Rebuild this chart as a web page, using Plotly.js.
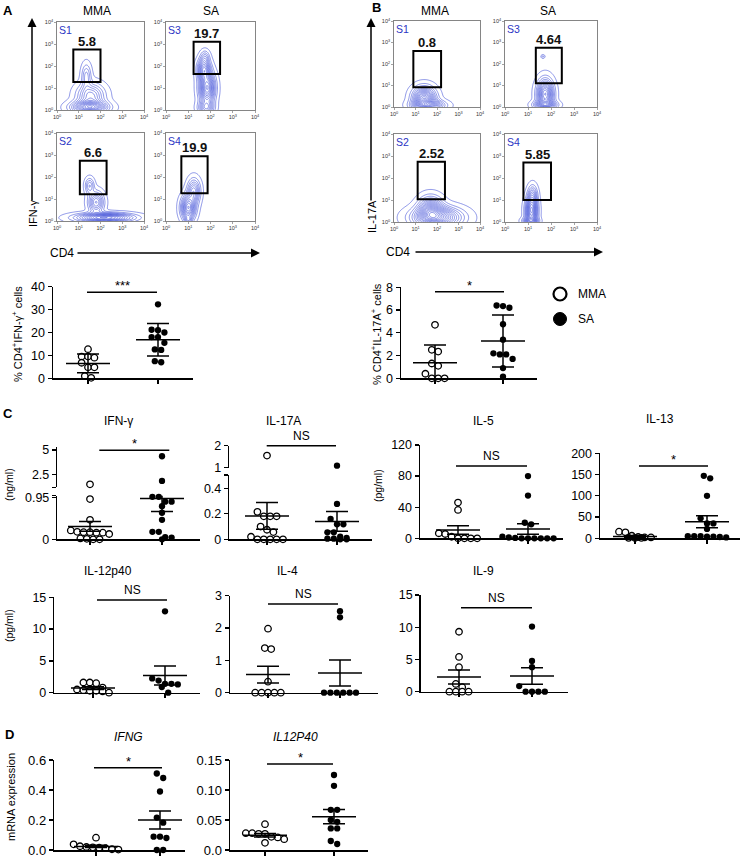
<!DOCTYPE html>
<html><head><meta charset="utf-8">
<script src="https://cdn.plot.ly/plotly-3.0.1.min.js"></script>
<style>html,body{margin:0;padding:0;background:#fff}#chart{width:743px;height:863px}</style>
</head><body><div id="chart"></div>
<script>
// ================= DATA =================
// Flow cytometry panels: A (IFN-γ vs CD4) S1,S3,S2,S4 then B (IL-17A vs CD4) S1,S3,S2,S4
const flowSamples = ['S1','S3','S2','S4','S1','S3','S2','S4'];
const flowGatePct = ['5.8','19.7','6.6','19.9','0.8','4.64','2.52','5.85'];
const flowGateX0 = [0.75,1.24,1.05,0.69,0.90,1.34,1.10,0.80];   // log10 CD4
const flowGateX1 = [2.00,2.43,2.28,1.87,2.19,2.47,2.37,2.00];
const flowGateY0 = [1.27,1.64,1.22,1.26,0.92,1.10,1.03,1.00];   // log10 cytokine
const flowGateY1 = [2.75,3.10,2.74,2.94,2.60,2.75,2.74,2.70];
// population clusters: [centre log10 CD4, centre log10 cytokine, spread x, spread y, relative density]
const flowClustersAS1 = [[1.5,0.12,0.5,0.18,1.0],[1.55,0.65,0.4,0.35,0.55],[1.35,1.55,0.14,0.35,0.3]];
const flowClustersAS3 = [[1.85,1.0,0.22,0.45,1.0],[1.7,1.85,0.18,0.3,0.75],[1.8,0.1,0.22,0.2,0.5],[1.75,2.4,0.13,0.2,0.25]];
const flowClustersAS2 = [[2.2,0.15,0.8,0.13,1.0],[1.8,0.85,0.22,0.3,0.6],[1.5,1.6,0.13,0.22,0.35]];
const flowClustersAS4 = [[1.0,0.6,0.2,0.35,0.9],[1.25,1.35,0.18,0.35,0.55],[1.0,0.05,0.1,0.1,0.3]];
const flowClustersBS1 = [[1.4,0.4,0.33,0.33,1.0],[1.6,0.08,0.45,0.15,0.8]];
const flowClustersBS3 = [[1.75,0.6,0.22,0.42,1.0],[1.75,0.1,0.3,0.12,0.7],[1.65,2.35,0.05,0.05,0.15]];
const flowClustersBS2 = [[2.0,0.2,0.7,0.3,1.0],[1.7,0.6,0.35,0.35,0.7]];
const flowClustersBS4 = [[1.15,0.5,0.16,0.4,1.0],[1.2,1.2,0.13,0.3,0.4],[1.1,0.05,0.2,0.1,0.6]];
const flowTickVals = [0,1,2,3,4];
const flowTickText = ['10<sup>0</sup>','10<sup>1</sup>','10<sup>2</sup>','10<sup>3</sup>','10<sup>4</sup>'];

const groups = ['MMA','SA'];
// A: % CD4+IFN-γ+ cells (mean ± SD)
const pctIfngMMA = [12.7,9.5,9.5,9.0,6.8,4.8,4.8,1.0,0.2];
const pctIfngSA  = [32.3,21.2,21.0,20.0,18.0,18.0,15.5,12.6,12.4,7.5,7.0];
const pctIfngMean = [6.5,16.8];
const pctIfngErr  = [4.1,7.1];
// B: % CD4+IL-17A+ cells (mean ± SD)
const pctIl17MMA = [4.7,2.5,2.35,1.3,1.1,0.4,0,0,0];
const pctIl17SA  = [6.4,6.35,6.2,4.75,3.4,2.2,2.1,2.1,1.7,0.9,0.15];
const pctIl17Mean = [1.37,3.28];
const pctIl17Err  = [1.55,2.28];
// C: cytokines (mean ± SEM)
const ifngMMA = [1.47,0.91,0.44,0.2,0.17,0.16,0.16,0.15,0.15,0.12,0.02,0.01,0.0,0.0];
const ifngSA  = [4.35,1.82,0.96,0.96,0.85,0.85,0.75,0.6,0.44,0.17,0.17,0.05,0.04,0.0];
const ifngMean = [0.29,0.92], ifngErr = [0.11,0.29];
const il17aMMA = [1.55,0.215,0.18,0.18,0.18,0.1,0.075,0.057,0.02,0,0,0,0,0];
const il17aSA  = [1.09,0.277,0.16,0.118,0.118,0.055,0.055,0.02,0.01,0.005,0.005,0,0];
const il17aMean = [0.183,0.14], il17aErr = [0.105,0.077];
const il5MMA = [46,36.5,6.5,5.5,2,0,0,0,0];
const il5SA  = [80,55,20,18,2,1,0.5,0,0,0,0,0,0];
const il5Mean = [10.7,12], il5Err = [5.6,6.8];
const il13MMA = [15.5,14,6,3,2,2,1,1,1];
const il13SA  = [147,141,100,47,35,35,22,5,5,5,4,4,3,2];
const il13Mean = [4.3,39], il13Err = [2.5,14];
const il12MMA = [1.6,1.6,1.5,0.8,0.5,0.4,0.3,0.3,0.2,0.0];
const il12SA  = [12.8,2.25,1.9,1.4,1.4,1.3,0.9,0.0];
const il12Mean = [0.72,2.7], il12Err = [0.22,1.5];
const il4MMA = [1.98,1.38,1.35,0.34,0,0,0,0,0];
const il4SA  = [2.52,2.33,0,0,0,0,0,0];
const il4Mean = [0.56,0.61], il4Err = [0.26,0.4];
const il9MMA = [9.3,5.4,3.8,1.2,0.7,0,0,0,0];
const il9SA  = [10.1,4.76,3.8,0.88,0,0,0,0];
const il9Mean = [2.27,2.44], il9Err = [1.08,1.29];
// D: mRNA expression (mean ± SEM)
const ifngMrnaMMA = [0.082,0.038,0.025,0.02,0.018,0.015,0.012,0.005,0.003];
const ifngMrnaSA  = [0.51,0.48,0.39,0.216,0.182,0.089,0.089,0.08,0.0,0.0];
const ifngMrnaMean = [0.024,0.2], ifngMrnaErr = [0.008,0.06];
const il12MrnaMMA = [0.043,0.028,0.028,0.027,0.027,0.022,0.021,0.018,0.012];
const il12MrnaSA  = [0.125,0.107,0.067,0.067,0.05,0.047,0.036,0.036,0.015,0.01];
const il12MrnaMean = [0.0245,0.0556], il12MrnaErr = [0.003,0.012];

// ================= LAYOUT HELPERS =================
const W = 743, H = 863;
const FONT = 'Liberation Sans, Arial, Helvetica, sans-serif';
const X = px => px / W;
const Y = py => 1 - py / H;
let xc = 0, yc = 0;
const layout = {
  width: W, height: H, margin: {l:0, r:0, t:0, b:0},
  paper_bgcolor: '#fff', plot_bgcolor: 'rgba(0,0,0,0)',
  showlegend: false, font: {family: FONT, color: '#000'},
  annotations: [], shapes: []
};
const traces = [];
const axKey = (p, n) => n === 1 ? p + 'axis' : p + 'axis' + n;
const axRef = (p, n) => n === 1 ? p : p + n;
function ann(o) {
  layout.annotations.push(Object.assign({showarrow:false, xref:'paper', yref:'paper', xanchor:'center', yanchor:'middle',
    font:{family:FONT, size:12, color:'#000'}}, o));
}

// ================= FLOW PANELS =================
const flowClusters = [flowClustersAS1, flowClustersAS3, flowClustersAS2, flowClustersAS4,
                      flowClustersBS1, flowClustersBS3, flowClustersBS2, flowClustersBS4];
const flowBoxes = [[57,144,22,110],[166,255,22,110],[57,144,133,221],[166,255,133,221],
                   [394,480,21,107],[505,597,21,107],[394,480,134,222],[505,597,134,222]];
const grid = [];
for (let k = 0; k <= 100; k++) grid.push(k * 0.04);
flowBoxes.forEach((bx, i) => {
  const [l, r, t, b] = bx;
  const xn = ++xc, yn = ++yc;
  const xr = axRef('x', xn), yr = axRef('y', yn);
  const common = {range:[0,4], showline:true, mirror:true, linecolor:'#666', linewidth:0.8,
    ticks:'outside', ticklen:2, tickwidth:0.6, tickcolor:'#666', tickvals:flowTickVals, ticktext:flowTickText,
    tickfont:{size:5.5, color:'#333', family:FONT}, showgrid:false, zeroline:false, fixedrange:true};
  layout[axKey('x', xn)] = Object.assign({domain:[X(l), X(r)], anchor:yr}, common);
  layout[axKey('y', yn)] = Object.assign({domain:[Y(b), Y(t)], anchor:xr}, common);
  const cl = flowClusters[i];
  const z = grid.map(gy => grid.map(gx => cl.reduce((s, c) =>
      s + c[4] * Math.exp(-0.5 * ((gx - c[0]) / c[2]) ** 2 - 0.5 * ((gy - c[1]) / c[3]) ** 2), 0)));
  traces.push({type:'contour', x:grid, y:grid, z:z, xaxis:xr, yaxis:yr, showscale:false, hoverinfo:'skip',
    autocontour:false, contours:{coloring:'lines', start:0.03, end:2.0, size:0.08},
    line:{width:0.6, smoothing:1}, colorscale:[[0,'#3f4fd6'],[1,'#3f4fd6']]});
  layout.shapes.push({type:'rect', xref:xr, yref:yr, x0:flowGateX0[i], x1:flowGateX1[i],
    y0:flowGateY0[i], y1:flowGateY1[i], line:{color:'#000', width:2}});
  ann({xref:xr, yref:yr, x:(flowGateX0[i] + flowGateX1[i]) / 2, y:flowGateY1[i], yanchor:'bottom',
    text:'<b>' + flowGatePct[i] + '</b>', font:{family:FONT, size:13, color:'#111'}, borderpad:0});
  ann({x:X(l + 1), y:Y(t + 1), xanchor:'left', yanchor:'top', text:flowSamples[i], borderpad:0,
    font:{family:FONT, size:10.5, color:'#2b35c4'}});
});
// column headers & panel letters
ann({x:X(97), y:Y(11), text:'MMA'}); ann({x:X(211), y:Y(11), text:'SA'});
ann({x:X(435), y:Y(11), text:'MMA'}); ann({x:X(548), y:Y(11), text:'SA'});
ann({x:X(8), y:Y(10), text:'<b>A</b>', font:{family:FONT, size:13}});
ann({x:X(376), y:Y(8), text:'<b>B</b>', font:{family:FONT, size:13}});
ann({x:X(8), y:Y(414), text:'<b>C</b>', font:{family:FONT, size:13}});
ann({x:X(9), y:Y(734), text:'<b>D</b>', font:{family:FONT, size:13}});
// big axis arrows (head position in paper coordinates, tail offset in pixels)
function arrow(hx, hy, dx, dy) {
  layout.annotations.push({xref:'paper', yref:'paper', x:X(hx), y:Y(hy), ax:dx, ay:dy,
    showarrow:true, arrowhead:2, arrowsize:1.2, arrowwidth:1.5, arrowcolor:'#000', text:'', standoff:0, startstandoff:0});
}
arrow(32, 18, 0, 184); arrow(260, 253, -184, 0);
arrow(371, 18, 0, 184); arrow(603, 252, -189, 0);
ann({x:X(33), y:Y(214), text:'IFN-γ', textangle:-90, font:{family:FONT, size:11}});
ann({x:X(62), y:Y(253), text:'CD4'});
ann({x:X(372), y:Y(216), text:'IL-17A', textangle:-90, font:{family:FONT, size:11}});
ann({x:X(398), y:Y(252), text:'CD4'});

// ================= DOT PLOTS =================
const dotPanels = [
  {data:[pctIfngMMA,pctIfngSA], mean:pctIfngMean, err:pctIfngErr, box:[53,193], c:[88,158], fs:12.5,
   segs:[{top:286.7, bot:378.3, r:[0,40], tv:[0,10,20,30,40]}], br:[87,157,292.3], sig:'***'},
  {data:[pctIl17MMA,pctIl17SA], mean:pctIl17Mean, err:pctIl17Err, box:[401,537], c:[435,503], fs:12.5,
   segs:[{top:287.3, bot:378.3, r:[0,8], tv:[0,2,4,6,8]}], br:[435,504,291.7], sig:'*'},
  {data:[ifngMMA,ifngSA], mean:ifngMean, err:ifngErr, box:[57.3,200], c:[90,162], fs:12.5,
   segs:[{top:495.7, bot:539.3, r:[0,0.986], tv:[0,0.95,0.986], tt:['0','0.95','']},
         {top:447, bot:487.3, r:[1.16,5.3], tv:[1.16,2.5,5], tt:['','2.5','5']}], br:[99.3,169.3,450.3], sig:'*'},
  {data:[il17aMMA,il17aSA], mean:il17aMean, err:il17aErr, box:[229.3,372], c:[267,337], fs:12.5,
   segs:[{top:475, bot:539.3, r:[0,0.504], tv:[0,0.2,0.4,0.504], tt:['0','0.2','0.4','']},
         {top:445.7, bot:467.7, r:[1,2], tv:[1,2], tt:['1','2']}], br:[266.7,336,445.7], sig:'NS'},
  {data:[il5MMA,il5SA], mean:il5Mean, err:il5Err, box:[420,563], c:[458,528], fs:12.5,
   segs:[{top:445, bot:538.3, r:[0,120], tv:[0,40,80,120]}], br:[456,527,466], sig:'NS'},
  {data:[il13MMA,il13SA], mean:il13Mean, err:il13Err, box:[600,740], c:[635,707], fs:12.5,
   segs:[{top:453.3, bot:538.3, r:[0,200], tv:[0,50,100,150,200]}], br:[639,708,466], sig:'*'},
  {data:[il12MMA,il12SA], mean:il12Mean, err:il12Err, box:[54.3,200], c:[93,165], fs:12.5,
   segs:[{top:597.3, bot:692.7, r:[0,15], tv:[0,5,10,15]}], br:[97,167,600], sig:'NS'},
  {data:[il4MMA,il4SA], mean:il4Mean, err:il4Err, box:[230,378], c:[268,340], fs:12.5,
   segs:[{top:595.7, bot:692.7, r:[0,3], tv:[0,1,2,3]}], br:[268,338,604], sig:'NS'},
  {data:[il9MMA,il9SA], mean:il9Mean, err:il9Err, box:[420.7,568], c:[459,532], fs:12.5,
   segs:[{top:595, bot:691.7, r:[0,15], tv:[0,5,10,15]}], br:[461,532,607.7], sig:'NS'},
  {data:[ifngMrnaMMA,ifngMrnaSA], mean:ifngMrnaMean, err:ifngMrnaErr, box:[54.3,185], c:[96,160], fs:13,
   segs:[{top:760, bot:850, r:[0,0.6], tv:[0,0.2,0.4,0.6], tt:['0.0','0.2','0.4','0.6']}], br:[94,162,767.7], sig:'*'},
  {data:[il12MrnaMMA,il12MrnaSA], mean:il12MrnaMean, err:il12MrnaErr, box:[230,368], c:[265,334], fs:13,
   segs:[{top:760, bot:850, r:[0,0.15], tv:[0,0.05,0.1,0.15], tt:['0.0','0.05','0.10','0.15']}], br:[267,333,764], sig:'*'}
];

function swarm(vals, toPx, d) {
  const idx = vals.map((v, i) => i).sort((a, b) => vals[b] - vals[a]);
  const off = new Array(vals.length).fill(0);
  let row = [], start = null;
  const flush = () => { const n = row.length; row.forEach((i, k) => { off[i] = (k - (n - 1) / 2) * d; }); };
  idx.forEach(i => {
    const p = toPx(vals[i]);
    if (start === null || Math.abs(p - start) < d * 0.95) { if (start === null) start = p; row.push(i); }
    else { flush(); row = [i]; start = p; }
  });
  flush();
  return off;
}

const markerStyles = [
  {symbol:'circle', size:6.5, color:'#fff', line:{color:'#000', width:1.3}},
  {symbol:'circle', size:6.3, color:'#000', line:{color:'#000', width:0}}
];

dotPanels.forEach(P => {
  const xn = ++xc, xr = axRef('x', xn);
  const ppu = P.c[1] - P.c[0];
  const r0 = 1 - (P.c[0] - P.box[0]) / ppu, r1 = 2 + (P.box[1] - P.c[1]) / ppu;
  const segRefs = P.segs.map(() => axRef('y', ++yc));
  const segNums = segRefs.map(s => s === 'y' ? 1 : +s.slice(1));
  layout[axKey('x', xn)] = {domain:[X(P.box[0]), X(P.box[1])], range:[r0, r1], anchor:segRefs[0],
    showline:true, linewidth:1.5, linecolor:'#000', ticks:'outside', ticklen:4, tickwidth:1.3, tickcolor:'#000',
    tickvals:[1,2], showticklabels:false, showgrid:false, zeroline:false, fixedrange:true};
  P.segs.forEach((s, k) => {
    layout[axKey('y', segNums[k])] = {domain:[Y(s.bot), Y(s.top)], range:s.r, anchor:xr,
      showline:true, linewidth:1.5, linecolor:'#000', ticks:'outside', ticklen:4, tickwidth:1.3, tickcolor:'#000',
      tickvals:s.tv, ticktext:s.tt || s.tv.map(String), tickfont:{family:FONT, size:P.fs, color:'#000'},
      showgrid:false, zeroline:false, fixedrange:true};
  });
  const segOf = v => (P.segs.length > 1 && v > P.segs[0].r[1]) ? 1 : 0;
  const toPx = v => { const s = P.segs[segOf(v)]; return s.bot - (v - s.r[0]) / (s.r[1] - s.r[0]) * (s.bot - s.top); };
  P.data.forEach((vals, g) => {
    const off = swarm(vals, toPx, 6.4);
    P.segs.forEach((s, k) => {
      const xs = [], ys = [];
      vals.forEach((v, i) => { if (segOf(v) === k) { xs.push(g + 1 + off[i] / ppu); ys.push(v); } });
      if (xs.length) traces.push({type:'scatter', mode:'markers', x:xs, y:ys, xaxis:xr, yaxis:segRefs[k],
        marker:markerStyles[g], cliponaxis:false, hoverinfo:'skip', name:groups[g]});
    });
    const k = segOf(P.mean[g]);
    traces.push({type:'scatter', mode:'lines', x:[g + 1 - 22 / ppu, g + 1 + 22 / ppu], y:[P.mean[g], P.mean[g]],
      xaxis:xr, yaxis:segRefs[k], line:{color:'#000', width:1.5}, hoverinfo:'skip', cliponaxis:false});
    traces.push({type:'scatter', mode:'markers', x:[g + 1], y:[P.mean[g]], xaxis:xr, yaxis:segRefs[k],
      marker:{size:1, opacity:0}, cliponaxis:true, hoverinfo:'skip',
      error_y:{type:'data', array:[P.err[g]], symmetric:true, width:11, thickness:1.5, color:'#000'}});
  });
  // significance bracket
  layout.shapes.push({type:'line', xref:'paper', yref:'paper', x0:X(P.br[0]), x1:X(P.br[1]), y0:Y(P.br[2]), y1:Y(P.br[2]),
    line:{color:'#000', width:1.5}});
  const isStar = P.sig.indexOf('*') >= 0;
  ann({x:X((P.br[0] + P.br[1]) / 2), y:Y(P.br[2] + (isStar ? 3 : -1)), yanchor:'bottom', text:P.sig,
    font:{family:FONT, size:isStar ? 13 : 12, color:'#000'}});
});

// panel titles & axis titles
ann({x:X(118), y:Y(421), text:'IFN-γ'});
ann({x:X(283), y:Y(421), text:'IL-17A'});
ann({x:X(483), y:Y(421), text:'IL-5'});
ann({x:X(660), y:Y(419), text:'IL-13'});
ann({x:X(108), y:Y(571), text:'IL-12p40'});
ann({x:X(287), y:Y(571), text:'IL-4'});
ann({x:X(483), y:Y(571), text:'IL-9'});
ann({x:X(128), y:Y(737), text:'<i>IFNG</i>'});
ann({x:X(295), y:Y(737), text:'<i>IL12P40</i>'});
ann({x:X(17), y:Y(334), text:'% CD4<sup>+</sup>IFN-γ<sup>+</sup> cells', textangle:-90, font:{family:FONT, size:11}});
ann({x:X(376), y:Y(334), text:'% CD4<sup>+</sup>IL-17A<sup>+</sup> cells', textangle:-90, font:{family:FONT, size:11}});
ann({x:X(9), y:Y(485), text:'(ng/ml)', textangle:-90, font:{family:FONT, size:10.5}});
ann({x:X(378), y:Y(486), text:'(pg/ml)', textangle:-90, font:{family:FONT, size:10.5}});
ann({x:X(9), y:Y(626), text:'(pg/ml)', textangle:-90, font:{family:FONT, size:10.5}});
ann({x:X(11), y:Y(797), text:'mRNA expression', textangle:-90, font:{family:FONT, size:11}});

// legend
layout.shapes.push({type:'circle', xref:'paper', yref:'paper', x0:X(553.5), x1:X(566.5), y0:Y(300.5), y1:Y(287.5),
  line:{color:'#000', width:2.2}, fillcolor:'#fff'});
layout.shapes.push({type:'circle', xref:'paper', yref:'paper', x0:X(553.5), x1:X(566.5), y0:Y(325.5), y1:Y(312.5),
  line:{color:'#000', width:1}, fillcolor:'#000'});
ann({x:X(576), y:Y(294), xanchor:'left', text:'MMA'});
ann({x:X(576), y:Y(319), xanchor:'left', text:'SA'});

Plotly.newPlot('chart', traces, layout, {staticPlot:true, displayModeBar:false});
</script></body></html>
